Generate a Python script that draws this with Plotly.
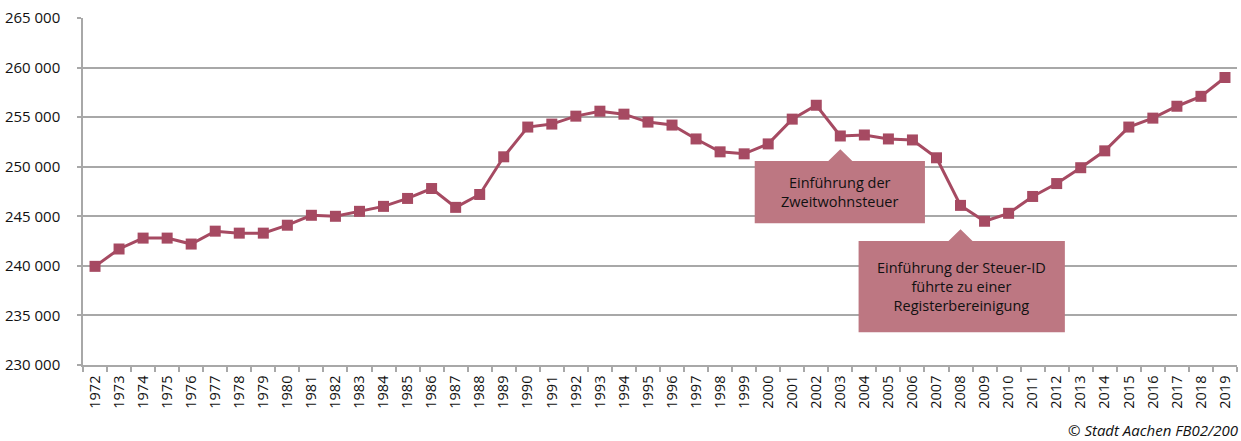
import plotly.graph_objects as go

years = [str(y) for y in range(1972, 2020)]
population = [
    239950, 241700, 242800, 242800, 242200, 243500, 243300, 243300, 244100, 245100,
    245000, 245500, 246000, 246800, 247800, 245900, 247200, 251000, 254000, 254300,
    255100, 255600, 255300, 254500, 254200, 252800, 251500, 251300, 252300, 254800,
    256200, 253100, 253200, 252800, 252700, 250900, 246100, 244500, 245300, 247000,
    248300, 249900, 251600, 254000, 254900, 256100, 257100, 259000,
]
y_ticks = [230000, 235000, 240000, 245000, 250000, 255000, 260000, 265000]

callout1_text = "Einführung der<br>Zweitwohnsteuer"
callout2_text = "Einführung der Steuer-ID<br>führte zu einer<br>Registerbereinigung"
footer_text = "© Stadt Aachen FB02/200"

LINE_COLOR = "#a64a62"
BOX_COLOR = "#bd7782"
GRID_COLOR = "#a8a8a8"
TEXT_COLOR = "#111111"
FONT = "Open Sans, Liberation Sans, Arial, sans-serif"

n = len(years)


def px(idx):
    # category index -> paper x
    return (idx + 0.5) / n


fig = go.Figure()
fig.add_trace(go.Scatter(
    x=years, y=population, mode="lines+markers",
    line=dict(color=LINE_COLOR, width=3),
    marker=dict(symbol="square", size=11, color=LINE_COLOR),
    hoverinfo="x+y", showlegend=False,
))


def callout(apex_idx, apex_y, base_y, bottom_y, left_idx, right_idx, text, text_y):
    ax = px(apex_idx)
    hw = 0.5 / n
    l, r = px(left_idx), px(right_idx)
    path = (f"M {l},{base_y} L {ax - hw},{base_y} L {ax},{apex_y} L {ax + hw},{base_y} "
            f"L {r},{base_y} L {r},{bottom_y} L {l},{bottom_y} Z")
    fig.add_shape(type="path", path=path, xref="paper", yref="y",
                  fillcolor=BOX_COLOR, line=dict(width=0), layer="above")
    fig.add_annotation(x=(l + r) / 2, y=text_y, xref="paper", yref="y", text=text,
                       xanchor="center", yanchor="middle",
                       showarrow=False, font=dict(family=FONT, size=14.5, color=TEXT_COLOR),
                       align="center")


callout(years.index("2003"), 251760, 250580, 244290, 27.44, 34.52, callout1_text, 247450)
callout(years.index("2008"), 243690, 242510, 233300, 31.76, 40.34, callout2_text, 237920)

fig.add_annotation(x=1.003, y=-0.187, xref="paper", yref="paper", text=footer_text,
                   showarrow=False, xanchor="right", yanchor="middle",
                   font=dict(family=FONT, size=15, color=TEXT_COLOR, style="italic"))

fig.update_layout(
    width=1241, height=441,
    margin=dict(l=83, r=4, t=18, b=76, autoexpand=False),
    plot_bgcolor="white", paper_bgcolor="white",
    separators=", ",
    font=dict(family=FONT, size=14, color=TEXT_COLOR),
    xaxis=dict(
        type="category", tickangle=-90, tickson="boundaries", automargin=False,
        ticks="outside", ticklen=5, tickcolor=GRID_COLOR, tickwidth=1.5,
        showline=True, linecolor=GRID_COLOR, linewidth=1.5,
        showgrid=False, ticklabelstandoff=3,
        range=[-0.5, n - 0.5],
        tickfont=dict(family=FONT, size=14.5, color=TEXT_COLOR),
    ),
    yaxis=dict(
        range=[230000, 265000], tickvals=y_ticks, tickformat=",d", automargin=False,
        ticks="outside", ticklen=4, tickcolor=GRID_COLOR, tickwidth=1.5,
        showline=True, linecolor=GRID_COLOR, linewidth=1.5,
        showgrid=True, gridcolor=GRID_COLOR, gridwidth=1.5,
        zeroline=False, ticklabelstandoff=14,
        tickfont=dict(family=FONT, size=15, color=TEXT_COLOR),
    ),
)

fig.write_html(
    "out.html",
    config={"displayModeBar": False},
    post_script="document.body.style.margin='0';document.body.style.padding='0';",
)
